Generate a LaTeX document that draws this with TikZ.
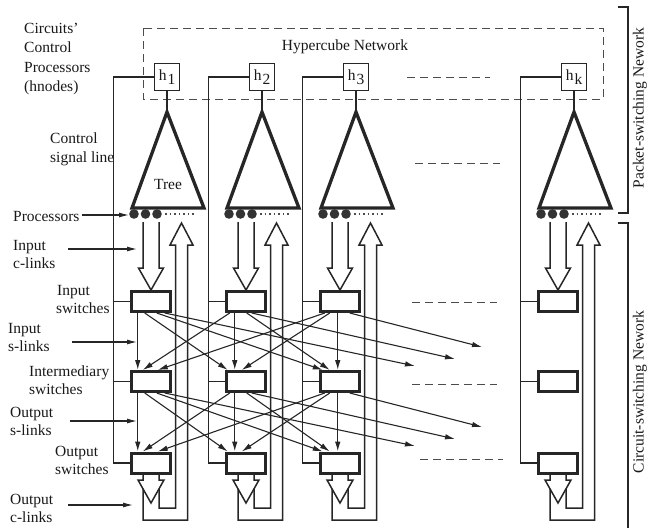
\documentclass[tikz,border=0pt]{standalone}
\usepackage{fontspec}
\setmainfont{Liberation Serif}
\usetikzlibrary{arrows.meta,calc}
\begin{document}
\begin{tikzpicture}[x=1pt,y=-1pt,
  every node/.style={font=\fontsize{15.5}{18}\selectfont, text=black!90},
  lbl/.style={anchor=base west, inner sep=0pt},
  swbox/.style={draw=black!85, line width=3pt, minimum width=39.5pt, minimum height=20pt, inner sep=0pt},
  hbox/.style={draw=black!85, line width=1.9pt, minimum width=25pt, minimum height=27pt, inner sep=0pt},
  thinln/.style={draw=black!85, line width=1.1pt},
  tip/.style={-{Latex[length=10pt,width=5.5pt]}},
  bigarr/.style={draw=black!85, line width=1.5pt, line join=miter},
  dsh/.style={draw=black!70, line width=1pt, dash pattern=on 8pt off 5pt},
]
\useasboundingbox (0,0) rectangle (648,528);

% hypercube network
\draw[dsh] (143,28) rectangle (603,99);
\node[anchor=base, inner sep=0pt] (hyp) at (345,50) {Hypercube Network};
\draw[dsh] (407,77) -- (490,77);
\draw[dsh] (415,163) -- (500,163);
\draw[dsh] (412,302) -- (497,302);
\draw[dsh] (412,384) -- (497,384);
\draw[dsh] (420,459) -- (503,459);

% columns
\foreach \c/\i in {151/1,246/2,340/3,558/k}{
  \node[hbox] (h\i) at (\c+16,77) {h\kern1pt\raisebox{-3.5pt}{\i}};
  \coordinate (ap\i) at (\c+16,112);
  \draw[thinln] (h\i.south) -- (ap\i);
  \draw[draw=black!85, line width=3.3pt, line join=miter] (ap\i) -- (\c-19,208) -- (\c+53,208) -- cycle;
  \fill[black!80] (\c-17,214) circle (4.8) (\c-5.5,214) circle (4.8) (\c+6,214) circle (4.8);
  \draw[black!70, line width=1.2pt, dash pattern=on 1.5pt off 3pt] (\c+14,214) -- (\c+44,214);
  \node[swbox] (I\i) at (\c,301.5) {};
  \node[swbox] (M\i) at (\c,381.5) {};
  \node[swbox] (O\i) at (\c,463) {};
  \coordinate (cb\i) at (\c-37.5,463);
  \draw[thinln] (h\i.west) -| (cb\i) -- (O\i.west);
  \draw[thinln] (I\i.west) -- (I\i.west -| cb\i);
  \draw[thinln] (M\i.west) -- (M\i.west -| cb\i);
  % input c-link block arrow
  \draw[bigarr] (\c-8,222) -- (\c-8,268) -- (\c-12.5,268) -- (I\i.north) -- (\c+12.5,268) -- (\c+8,268) -- (\c+8,222);
  % output c-link block arrow
  \draw[bigarr] (\c-8,474.5) -- (\c-8,480) -- (\c-13,480) -- (\c,503) -- (\c+13,480) -- (\c+8,480) -- (\c+8,474.5);
  % loop back to up arrow
  \draw[bigarr] (\c+8,488.8) -- (\c+8,508) -- (\c+24.5,508) -- (\c+24.5,245) -- (\c+19,245) -- (\c+30.5,223) -- (\c+42,245) -- (\c+36.5,245) -- (\c+36.5,520) -- (\c-8,520) -- (\c-8,488.8);
}
\node[anchor=base, inner sep=0pt] (tree) at (168,189) {Tree};

% switch interconnections
\foreach \a/\b/\sa/\eb in {1/1/8/8, 1/2/15/3, 1/3/27/4, 2/1/5/13, 2/2/10/10, 2/3/22/11, 3/1/6/28, 3/2/11/17, 3/3/19/19}{
  \draw[thinln,tip] ($(I\a.south west)+(\sa,0)$) -- ($(M\b.north west)+(\eb,0)$);
  \draw[thinln,tip] ($(M\a.south west)+(\sa,0)$) -- ($(O\b.north west)+(\eb,0)$);
}
\foreach \a/\sa/\x/\y in {1/35/415/366, 2/27/455/359, 3/31/482/347}{
  \coordinate (fi\a) at (\x,\y);
  \coordinate (fm\a) at (\x,\y+80);
  \draw[thinln,tip] ($(I\a.south west)+(\sa,0)$) -- (fi\a);
  \draw[thinln,tip] ($(M\a.south west)+(\sa,0)$) -- (fm\a);
}

% right brackets
\draw[thinln] (618,7) -- (628,7) -- (628,213) -- (618,213);
\draw[thinln] (618,223) -- (628,223) -- (628,528);
\node[rotate=90, inner sep=0pt] (psn) at (640,108) {Packet-switching Nework};
\node[rotate=90, inner sep=0pt] (csn) at (640,392) {Circuit-switching Nework};

% left labels
\node[lbl] (lc1) at (24,33) {Circuits'};
\node[lbl] (lc2) at (24,52.5) {Control};
\node[lbl] (lc3) at (24,72) {Processors};
\node[lbl] (lc4) at (24,91.5) {(hnodes)};
\node[lbl] (ls1) at (50,143) {Control};
\node[lbl] (ls2) at (50,162) {signal line};
\node[lbl] (lp) at (13,221) {Processors};
\node[lbl] (lic1) at (13,250) {Input};
\node[lbl] (lic2) at (13,268) {c-links};
\node[lbl] (lis1) at (57,295) {Input};
\node[lbl] (lis2) at (56,313) {switches};
\node[lbl] (lil1) at (8,333) {Input};
\node[lbl] (lil2) at (8,351) {s-links};
\node[lbl] (lm1) at (29,376) {Intermediary};
\node[lbl] (lm2) at (29,394) {switches};
\node[lbl] (lol1) at (10,417) {Output};
\node[lbl] (lol2) at (10,435) {s-links};
\node[lbl] (los1) at (55,456) {Output};
\node[lbl] (los2) at (55,474) {switches};
\node[lbl] (loc1) at (10,504) {Output};
\node[lbl] (loc2) at (10,522) {c-links};

\coordinate (pa) at (82,215);   \coordinate (pb) at (129,215);
\coordinate (ica) at (68,249);  \coordinate (icb) at (137,249);
\coordinate (isa) at (72,342);  \coordinate (isb) at (137,342);
\coordinate (osa) at (70,421);  \coordinate (osb) at (137,421);
\coordinate (oca) at (68,505);  \coordinate (ocb) at (133,505);
\foreach \s/\e in {pa/pb, ica/icb, isa/isb, osa/osb, oca/ocb}{
  \draw[thinln,-{Latex[length=10pt,width=5pt]}] (\s) -- (\e);
}
\end{tikzpicture}
\end{document}
